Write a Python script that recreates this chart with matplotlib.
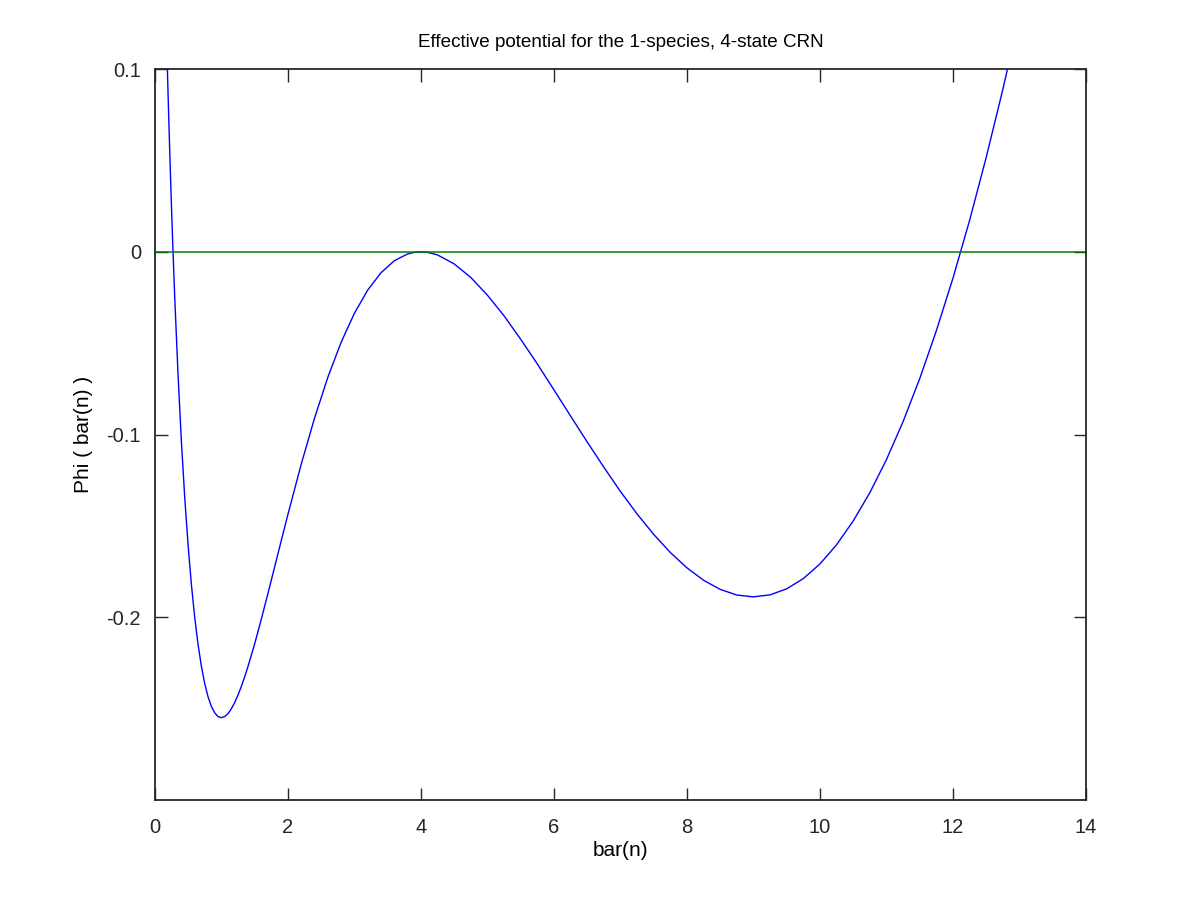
import numpy as np
import matplotlib
matplotlib.use("Agg")
import matplotlib.pyplot as plt

plt.rcParams['font.family'] = ['Liberation Sans', 'DejaVu Sans']

# bar(n) and Phi(bar(n))
n_bar = [0.18, 0.2, 0.225, 0.25, 0.275, 0.3, 0.35, 0.4, 0.45, 0.5, 0.55, 0.6, 0.65,
         0.7, 0.75, 0.8, 0.85, 0.9, 0.95, 1.0, 1.05, 1.1, 1.15, 1.2, 1.25, 1.3, 1.35,
         1.4, 1.5, 1.6, 1.7, 1.8, 1.9,
         2.0, 2.2, 2.4, 2.6, 2.8, 3.0, 3.2, 3.4, 3.6, 3.8, 3.9,
         4.0, 4.1, 4.25, 4.5, 4.75, 5.0, 5.25, 5.5, 5.75, 6.0, 6.25, 6.5, 6.75,
         7.0, 7.25, 7.5, 7.75, 8.0, 8.25, 8.5, 8.75, 9.0, 9.25, 9.5, 9.75,
         10.0, 10.25, 10.5, 10.75, 11.0, 11.25, 11.5, 11.75,
         12.0, 12.25, 12.5, 12.75, 13.0]
phi = [0.1130, 0.0856, 0.0542, 0.0254, -0.0010, -0.0252, -0.0676, -0.1039, -0.1344, -0.1603, -0.1820, -0.2000, -0.2147,
       -0.2267, -0.2362, -0.2434, -0.2487, -0.2522, -0.2543, -0.2549, -0.2543, -0.2527, -0.2501, -0.2467, -0.2426, -0.2379, -0.2327,
       -0.2270, -0.2147, -0.2012, -0.1871, -0.1727, -0.1582,
       -0.1439, -0.1164, -0.0912, -0.0688, -0.0496, -0.0337, -0.0210, -0.0115, -0.0049, -0.0012, -0.0003,
       0.0, -0.0003, -0.0017, -0.0066, -0.0140, -0.0237, -0.0350, -0.0478, -0.0613, -0.0755, -0.0898, -0.1040, -0.1178,
       -0.1311, -0.1434, -0.1546, -0.1645, -0.1729, -0.1797, -0.1847, -0.1878, -0.1888, -0.1877, -0.1844, -0.1788,
       -0.1708, -0.1603, -0.1473, -0.1318, -0.1137, -0.0929, -0.0694, -0.0432,
       -0.0144, 0.0172, 0.0517, 0.0889, 0.1288]

zero_x = [0, 14]
zero_y = [0, 0]

fig = plt.figure(figsize=(12, 9), dpi=100)
ax = fig.add_axes([0.129, 0.111, 0.776, 0.8123])

ax.plot(n_bar, phi, color=(0, 0, 1), lw=1.0)
ax.plot(zero_x, zero_y, color=(0, 0.5, 0), lw=1.1)

ax.set_xlim(0, 14)
ax.set_ylim(-0.3, 0.1)
ax.set_xticks([0, 2, 4, 6, 8, 10, 12, 14])
ax.set_yticks([-0.2, -0.1, 0, 0.1])
ax.set_yticklabels(['-0.2', '-0.1', '0', '0.1'])

ax.tick_params(direction='in', length=9, width=1, top=True, right=True,
               labelsize=14.5, colors='#262626')
ax.tick_params(axis='x', pad=13)
ax.tick_params(axis='y', pad=10)
for s in ax.spines.values():
    s.set_linewidth(1.3)
    s.set_color('#262626')

ax.set_title('Effective potential for the 1-species, 4-state CRN', fontsize=13.6, pad=16)
ax.set_xlabel('bar(n)', fontsize=15, labelpad=3)
ax.set_ylabel('Phi ( bar(n) )', fontsize=15, labelpad=10)

fig.savefig('out.png', dpi=100)
